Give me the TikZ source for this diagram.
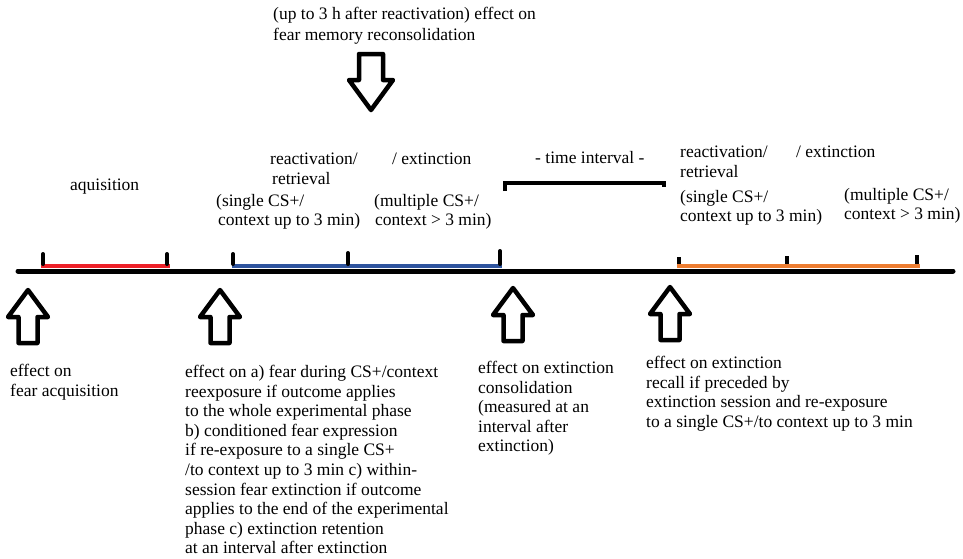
\documentclass[tikz,border=0pt]{standalone}
\usepackage{fontspec}
\setmainfont{Liberation Serif}
\definecolor{segred}{RGB}{237,32,40}
\definecolor{segblue}{RGB}{47,84,158}
\definecolor{segorange}{RGB}{237,125,49}
\begin{document}
\begin{tikzpicture}[x=1pt,y=-1pt,
  txt/.style={inner sep=0pt,anchor=north west,align=left,font=\fontsize{17.5}{19.6}\selectfont},
  axis/.style={line width=5pt,line cap=round},
  seg/.style={line width=4pt},
  tick/.style={line width=4pt,line cap=round},
  uparr/.pic={\draw[line width=4.5pt,line join=round] (0,0) -- (20,27) -- (9.5,27) -- (9.5,53) -- (-9.5,53) -- (-9.5,27) -- (-20,27) -- cycle;},
  downarr/.pic={\draw[line width=4.5pt,line join=round] (-12,0) -- (12,0) -- (12,26) -- (22,26) -- (0,56) -- (-22,26) -- (-12,26) -- cycle;}
]
\useasboundingbox (0,0) rectangle (963,558);

% timeline
\coordinate (tl0) at (18,271);
\coordinate (tl1) at (953,271);
\draw[axis] (tl0) -- (tl1);

% acquisition segment
\coordinate (r0) at (41,265.5); \coordinate (r1) at (170,265.5);
\draw[seg,segred] (r0) -- (r1);
\draw[tick] (43,254) -- (43,264);
\draw[tick] (167,254) -- (167,264);

% reactivation / extinction segment
\coordinate (b0) at (232,265.5); \coordinate (b1) at (502,265.5);
\draw[seg,segblue] (b0) -- (b1);
\draw[tick] (233,254) -- (233,264);
\draw[tick] (348,253) -- (348,264);
\draw[tick] (500,251) -- (500,264);

% second reactivation / extinction segment
\coordinate (o0) at (677,265.5); \coordinate (o1) at (920,265.5);
\draw[seg,segorange] (o0) -- (o1);
\draw[line width=4pt] (679,257) -- (679,264);
\draw[line width=4pt] (787,256) -- (787,264);
\draw[line width=4pt] (917,255) -- (917,264);

% time interval bracket
\coordinate (ti0) at (505,191);
\coordinate (ti1) at (664,187);
\draw[line width=4pt] (ti0) -- (505,182.5) -- (664,182.5) -- (ti1);

% arrows
\pic at (28,290) {uparr};
\pic at (220,290) {uparr};
\pic at (513,288) {uparr};
\pic at (670,287) {uparr};
\pic at (371,54) {downarr};

% top labels
\node[txt,font=\fontsize{17.5}{20.5}\selectfont] (top) at (273,7) {(up to 3 h after reactivation) effect on\\fear memory reconsolidation};
\node[txt] (acq) at (70,179) {aquisition};
\node[txt] (react1) at (270,153) {reactivation/\\\hspace*{2pt}retrieval};
\node[txt] (single1) at (216,194) {(single CS+/\\\hspace*{2pt}context up to 3 min)};
\node[txt] (ext1) at (392,153) {/ extinction};
\node[txt] (mult1) at (374,194) {(multiple CS+/\\\hspace*{1pt}context > 3 min)};
\node[txt] (interval) at (535,151) {- time interval -};
\node[txt] (react2) at (680,146) {reactivation/\\retrieval};
\node[txt] (ext2) at (796,146) {/ extinction};
\node[txt] (single2) at (680,190) {(single CS+/\\context up to 3 min)};
\node[txt] (mult2) at (844,188) {(multiple CS+/\\context > 3 min)};

% bottom labels
\node[txt] (b1t) at (10,364) {effect on\\fear acquisition};
\node[txt] (b2t) at (185,365) {effect on a) fear during CS+/context\\reexposure if outcome applies\\to the whole experimental phase\\b) conditioned fear expression\\if re-exposure to a single CS+\\/to context up to 3 min c) within-\\session fear extinction if outcome\\applies to the end of the experimental\\phase c) extinction retention\\at an interval after extinction};
\node[txt] (b3t) at (478,361) {effect on extinction\\consolidation\\(measured at an\\interval after\\extinction)};
\node[txt] (b4t) at (646,356) {effect on extinction\\recall if preceded by\\extinction session and re-exposure\\to a single CS+/to context up to 3 min};
\end{tikzpicture}
\end{document}
